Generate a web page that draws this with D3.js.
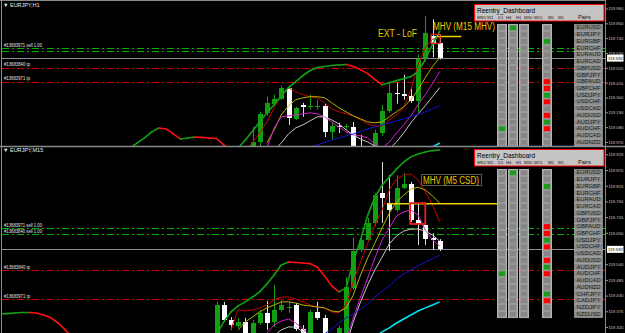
<!DOCTYPE html>
<html>
<head>
<meta charset="utf-8">
<script src="https://cdn.jsdelivr.net/npm/d3@7/dist/d3.min.js"></script>
<style>
  body { margin: 0; background: #000; }
  svg { display: block; font-family: Arial, "Liberation Sans", sans-serif; }
</style>
</head>
<body>
<div id="chart"></div>
<script>

// ---------- H1 panel data (candle index 0..26) ----------
var h1Open  = [118.895, 118.970, 119.186, 119.254, 119.291, 119.373, 119.142, 119.246, 119.235, 119.231, 119.239, 119.045, 119.089, 119.086, 119.082, 118.910, 118.836, 118.910, 119.037, 119.201, 119.336, 119.328, 119.313, 119.276, 119.589, 119.754, 119.701];
var h1High  = [119.082, 119.194, 119.306, 119.321, 119.388, 119.388, 119.231, 119.261, 119.321, 119.283, 119.254, 119.119, 119.112, 119.104, 119.119, 119.022, 118.925, 119.060, 119.246, 119.410, 119.410, 119.470, 119.373, 119.619, 119.903, 119.880, 119.768];
var h1Low   = [118.873, 118.940, 119.164, 119.239, 119.283, 119.097, 119.134, 119.157, 119.209, 119.209, 119.007, 118.985, 119.037, 119.060, 118.873, 118.798, 118.798, 118.895, 119.015, 119.186, 119.254, 119.283, 119.261, 119.194, 119.567, 119.597, 119.582];
var h1Close = [118.970, 119.179, 119.261, 119.291, 119.373, 119.149, 119.224, 119.231, 119.239, 119.239, 119.045, 119.089, 119.082, 119.089, 118.910, 118.836, 118.910, 119.037, 119.201, 119.336, 119.328, 119.313, 119.276, 119.589, 119.776, 119.694, 119.592];

// indicator lines, each with the candle index where it starts
var h1BandStart = -17;
var h1Band = [118.925, 118.963, 119.000, 119.045, 119.074, 119.067, 119.030, 118.992, 119.000, 119.007, 119.004, 119.000, 118.996, 118.948, 118.910, 118.925, 118.985, 119.052, 119.119, 119.186, 119.246, 119.313, 119.373, 119.418, 119.463, 119.500, 119.522, 119.530, 119.537, 119.541, 119.545, 119.530, 119.507, 119.477, 119.433, 119.395, 119.410, 119.425, 119.440, 119.455, 119.492, 119.582, 119.694, 119.791];
var h1RedStart = -1;
var h1Red = [118.910, 118.963, 119.037, 119.119, 119.224, 119.321, 119.373, 119.343, 119.321, 119.306, 119.298, 119.261, 119.216, 119.194, 119.179, 119.164, 119.134, 119.104, 119.089, 119.089, 119.134, 119.171, 119.224, 119.358, 119.545, 119.671, 119.731, 119.746];
var h1YellowStart = 2;
var h1Yellow = [118.963, 119.060, 119.171, 119.239, 119.283, 119.298, 119.306, 119.306, 119.298, 119.261, 119.224, 119.194, 119.164, 119.142, 119.119, 119.112, 119.119, 119.157, 119.194, 119.231, 119.283, 119.358, 119.448, 119.530, 119.597];
var h1MagentaStart = 2;
var h1Magenta = [118.925, 119.074, 119.157, 119.164, 119.171, 119.179, 119.186, 119.179, 119.157, 119.119, 119.082, 119.045, 119.022, 119.015, 119.000, 118.955, 118.925, 118.970, 119.037, 119.097, 119.164, 119.246, 119.321, 119.403, 119.492];
var h1GrayStart = 3;
var h1Gray = [118.910, 118.963, 119.030, 119.074, 119.097, 119.127, 119.157, 119.157, 119.134, 119.104, 119.060, 119.022, 118.992, 118.970, 118.940, 118.910, 118.918, 118.970, 119.037, 119.112, 119.179, 119.239, 119.306, 119.373];
var h1BlueStart = 8;
var h1Blue = [118.933, 118.948, 118.966, 118.985, 119.000, 119.015, 119.030, 119.049, 119.067, 119.082, 119.097, 119.112, 119.127, 119.142, 119.157, 119.175, 119.194, 119.216, 119.239];
var h1CyanStart = 24;
var h1Cyan = [118.903, 118.933, 118.963];

var h1Ticks = [118.970, 119.080, 119.190, 119.300, 119.410, 119.520, 119.630, 119.740, 119.850, 119.960];

// ---------- M15 panel data (candle index -5..26) ----------
var m15Start = -5;
var m15Open  = [119.282, 119.397, 119.345, 119.324, 119.338, 119.299, 119.334, 119.369, 119.338, 119.380, 119.387, 119.397, 119.313, 119.299, 119.373, 119.352, 119.268, 119.299, 119.299, 119.457, 119.590, 119.625, 119.684, 119.789, 119.754, 119.730, 119.807, 119.821, 119.695, 119.677, 119.632, 119.621];
var m15High  = [119.408, 119.408, 119.355, 119.352, 119.352, 119.345, 119.380, 119.411, 119.467, 119.415, 119.408, 119.404, 119.327, 119.380, 119.408, 119.362, 119.296, 119.324, 119.495, 119.632, 119.632, 119.702, 119.789, 119.898, 119.852, 119.852, 119.859, 119.828, 119.754, 119.677, 119.649, 119.628];
var m15Low   = [119.268, 119.338, 119.310, 119.317, 119.282, 119.292, 119.327, 119.310, 119.320, 119.373, 119.369, 119.306, 119.292, 119.292, 119.345, 119.289, 119.257, 119.292, 119.292, 119.450, 119.583, 119.618, 119.674, 119.684, 119.586, 119.723, 119.803, 119.688, 119.607, 119.607, 119.590, 119.586];
var m15Close = [119.397, 119.345, 119.327, 119.338, 119.296, 119.334, 119.369, 119.334, 119.380, 119.397, 119.390, 119.313, 119.299, 119.373, 119.352, 119.299, 119.285, 119.317, 119.460, 119.586, 119.625, 119.684, 119.782, 119.772, 119.730, 119.807, 119.821, 119.695, 119.681, 119.628, 119.625, 119.592];

var m15BandLeftStart = -35;
var m15BandLeft = [119.366, 119.367, 119.369, 119.371, 119.371, 119.369, 119.362, 119.352, 119.334, 119.310, 119.282];
var m15BandStart = -6;
var m15Band = [119.275, 119.292, 119.338, 119.373, 119.394, 119.408, 119.425, 119.443, 119.471, 119.502, 119.537, 119.548, 119.546, 119.544, 119.542, 119.530, 119.499, 119.464, 119.443, 119.457, 119.548, 119.625, 119.712, 119.775, 119.817, 119.845, 119.873, 119.898, 119.916, 119.926, 119.933, 119.938, 119.940];
var m15RedStart = -3;
var m15Red = [119.310, 119.380, 119.376, 119.380, 119.387, 119.397, 119.415, 119.425, 119.425, 119.418, 119.408, 119.397, 119.390, 119.387, 119.373, 119.369, 119.397, 119.478, 119.548, 119.614, 119.677, 119.730, 119.800, 119.838, 119.852, 119.856, 119.835, 119.793, 119.747, 119.688];
var m15YellowStart = -2;
var m15Yellow = [119.310, 119.338, 119.355, 119.373, 119.387, 119.397, 119.408, 119.408, 119.404, 119.397, 119.394, 119.390, 119.387, 119.376, 119.373, 119.387, 119.432, 119.502, 119.562, 119.614, 119.667, 119.719, 119.758, 119.782, 119.803, 119.810, 119.800, 119.779, 119.754];
var m15MagentaStart = 2;
var m15Magenta = [119.299, 119.327, 119.341, 119.348, 119.334, 119.313, 119.292, 119.275, 119.262, 119.255, 119.257, 119.275, 119.352, 119.425, 119.492, 119.562, 119.625, 119.667, 119.709, 119.723, 119.730, 119.712, 119.660, 119.625, 119.604];
var m15GrayStart = 3;
var m15Gray = [119.289, 119.310, 119.320, 119.320, 119.303, 119.285, 119.268, 119.255, 119.248, 119.245, 119.257, 119.338, 119.408, 119.467, 119.520, 119.565, 119.611, 119.639, 119.656, 119.663, 119.663, 119.656, 119.642, 119.621];
var m15BlueStart = 10;
var m15Blue = [119.296, 119.313, 119.334, 119.352, 119.366, 119.383, 119.401, 119.425, 119.446, 119.464, 119.488, 119.506, 119.520, 119.534, 119.548, 119.558, 119.572];
var m15CyanStart = 17;
var m15Cyan = [119.285, 119.303, 119.317, 119.334, 119.348, 119.362, 119.376, 119.387, 119.397, 119.408];

var m15Ticks = [119.320, 119.375, 119.430, 119.485, 119.540, 119.650, 119.705, 119.760, 119.815, 119.870, 119.925];

// ---------- shared values ----------
var currentPrice = 119.592;
var orderPrices = [119.666, 119.645, 119.519, 119.417];
var orderKinds  = ["sell", "sell", "tp", "tp"];
var orderLabels = ["#13683971 sell 1.00", "#13683840 sell 1.00", "#13683840 tp", "#13683971 tp"];

var mhvLevel = 119.752;
var h1MhvSpan  = [25.6, 29.0];
var m15MhvSpan = [18.8, 34.0];
var h1MhvBox  = [24.8, 26.05, 119.701, 119.768];
var m15MhvBox = [21.9, 24.0, 119.681, 119.754];

// dashboard
var pairs = ["EURUSD", "EURJPY", "EURGBP", "EURCHF", "EURAUD", "EURCAD", "GBPUSD", "GBPJPY", "GBPAUD", "GBPCHF", "USDJPY",
             "USDCHF", "USDCAD", "AUDUSD", "AUDJPY", "AUDCHF", "AUDCAD", "AUDNZD", "CHFJPY", "CADJPY", "NZDJPY", "NZDUSD"];
var timeframes = ["MN1", "W1", "D1", "H4", "H1", "M30", "M15", "M5", "M1"];
var sigD1  = [0, 0, 0, 0, 0, 0, 0, 0, 0, 0, 0, 0, 0, 0, 0, 1, 0, 0, 0, 0, 0, 0];
var sigH4  = [1, 0, 0, 0, 0, 0, 0, 0, 0, 0, 0, 0, 0, 0, 0, 0, 0, 0, 0, 0, 0, 0];
var sigH1  = [0, 0, 0, 0, 0, 0, 0, 0, 0, 0, 0, 0, 0, 0, 0, 0, 0, 0, 0, 0, 0, 0];
var sigM15 = [0, 0, 1, 0, 0, 0, 0, 0, -1, -1, 1, -1, 0, -1, 1, -1, 0, 0, 1, -1, 0, 0];


// ---------- setup ----------
var W = 625, H = 333, axisX = 605;
var fmt = d3.format(".3f");

var svg = d3.select("#chart").append("svg")
    .attr("width", W)
    .attr("height", H);

svg.append("rect").attr("width", W).attr("height", H).attr("fill", "#000");

// shared time axis (candle index -> pixel)
var x = d3.scaleLinear().domain([0, 26]).range([252.5, 439.7]);

var defs = svg.append("defs");

function series(start, vals) {
  return vals.map(function(v, i) { return {k: start + i, v: v}; });
}

function candles(start, o, h, l, c) {
  return o.map(function(v, i) { return {k: start + i, o: v, h: h[i], l: l[i], c: c[i]}; });
}

var panels = [
  { id: "h1", top: 0, y0: 1.5, y1: 146, title: "EURJPY,H1",
    y: d3.scaleLinear().domain([118.970, 119.960]).range([142, 8.5]),
    ticks: h1Ticks,
    bars: candles(0, h1Open, h1High, h1Low, h1Close),
    band: [series(h1BandStart, h1Band)],
    lines: [
      {d: series(h1RedStart, h1Red), c: "#c80000", w: 1},
      {d: series(h1YellowStart, h1Yellow), c: "#b4b400", w: 1},
      {d: series(h1MagentaStart, h1Magenta), c: "#d020d0", w: 1},
      {d: series(h1GrayStart, h1Gray), c: "#c8c8c8", w: 1},
      {d: series(h1BlueStart, h1Blue), c: "#1414d2", w: 1},
      {d: series(h1CyanStart, h1Cyan), c: "#00e4f0", w: 1.6}
    ],
    mhvSpan: h1MhvSpan, mhvBox: h1MhvBox
  },
  { id: "m15", top: 145, y0: 147.5, y1: 333, title: "EURJPY,M15",
    y: d3.scaleLinear().domain([119.320, 119.925]).range([327, 154.3]),
    ticks: m15Ticks,
    bars: candles(m15Start, m15Open, m15High, m15Low, m15Close),
    band: [series(m15BandLeftStart, m15BandLeft), series(m15BandStart, m15Band)],
    lines: [
      {d: series(m15RedStart, m15Red), c: "#c80000", w: 1},
      {d: series(m15YellowStart, m15Yellow), c: "#b4b400", w: 1},
      {d: series(m15MagentaStart, m15Magenta), c: "#d020d0", w: 1},
      {d: series(m15GrayStart, m15Gray), c: "#c8c8c8", w: 1},
      {d: series(m15BlueStart, m15Blue), c: "#1414d2", w: 1},
      {d: series(m15CyanStart, m15Cyan), c: "#00e4f0", w: 1.6}
    ],
    mhvSpan: m15MhvSpan, mhvBox: m15MhvBox
  }
];

panels.forEach(function(p) { drawPanel(p); });

// frame lines
svg.append("line").attr("x1", 0).attr("x2", axisX).attr("y1", 0.5).attr("y2", 0.5).attr("stroke", "#8a8a8a");
svg.append("line").attr("x1", 0).attr("x2", W).attr("y1", 146.5).attr("y2", 146.5).attr("stroke", "#8a8a8a").attr("stroke-width", 1.5);
svg.append("line").attr("x1", 1.5).attr("x2", 1.5).attr("y1", 0).attr("y2", H).attr("stroke", "#8a8a8a");
svg.append("line").attr("x1", axisX + 0.5).attr("x2", axisX + 0.5).attr("y1", 0).attr("y2", H).attr("stroke", "#8a8a8a");


function drawPanel(p) {
  var y = p.y;

  defs.append("clipPath").attr("id", "clip-" + p.id)
    .append("rect").attr("x", 2).attr("y", p.y0).attr("width", axisX - 2).attr("height", p.y1 - p.y0);

  var g = svg.append("g").attr("clip-path", "url(#clip-" + p.id + ")");

  // order lines (dash-dot)
  g.selectAll(".order")
    .data(orderPrices)
    .enter()
    .append("line")
      .attr("x1", 2).attr("x2", axisX)
      .attr("y1", function(d) { return Math.round(y(d)) + 0.5; })
      .attr("y2", function(d) { return Math.round(y(d)) + 0.5; })
      .attr("stroke", function(d, i) { return orderKinds[i] === "sell" ? "#00b400" : "#d00000"; })
      .attr("stroke-dasharray", "7,3,2,3");

  // current price line
  g.append("line")
    .attr("x1", 2).attr("x2", axisX)
    .attr("y1", Math.round(y(currentPrice)) + 0.5)
    .attr("y2", Math.round(y(currentPrice)) + 0.5)
    .attr("stroke", "#8c8c96");

  // candles
  var bw = 5;
  g.selectAll(".wick")
    .data(p.bars)
    .enter()
    .append("line")
      .attr("x1", function(d) { return Math.round(x(d.k)) + 0.5; })
      .attr("x2", function(d) { return Math.round(x(d.k)) + 0.5; })
      .attr("y1", function(d) { return y(d.h); })
      .attr("y2", function(d) { return y(d.l); })
      .attr("stroke", function(d) { return d.c >= d.o ? "#12a012" : "#dcdcdc"; });

  g.selectAll(".body")
    .data(p.bars)
    .enter()
    .append("rect")
      .attr("x", function(d) { return Math.round(x(d.k)) - 2; })
      .attr("width", bw)
      .attr("y", function(d) { return Math.round(y(Math.max(d.o, d.c))); })
      .attr("height", function(d) { return Math.max(1, Math.round(Math.abs(y(d.o) - y(d.c)))); })
      .attr("fill", function(d) { return d.c >= d.o ? "#12a012" : "#ffffff"; })
      .attr("shape-rendering", "crispEdges");

  // moving averages
  var line = d3.line()
    .defined(function(d) { return d.v != null; })
    .x(function(d) { return x(d.k); })
    .y(function(d) { return y(d.v); });

  p.lines.forEach(function(l) {
    g.append("path")
      .datum(l.d)
      .attr("d", line)
      .attr("fill", "none")
      .attr("stroke", l.c)
      .attr("stroke-width", l.w);
  });

  // trend coloured band: green while rising, red while falling
  p.band.forEach(function(b) {
    var segs = d3.pairs(b);
    g.selectAll(null)
      .data(segs)
      .enter()
      .append("line")
        .attr("x1", function(d) { return x(d[0].k); })
        .attr("y1", function(d) { return y(d[0].v); })
        .attr("x2", function(d) { return x(d[1].k); })
        .attr("y2", function(d) { return y(d[1].v); })
        .attr("stroke", function(d) { return d[1].v < d[0].v ? "#ff1010" : "#14a014"; })
        .attr("stroke-width", 1.6)
        .attr("stroke-linecap", "round");
  });

  // MHV level and box
  g.append("line")
    .attr("x1", x(p.mhvSpan[0])).attr("x2", x(p.mhvSpan[1]))
    .attr("y1", y(mhvLevel)).attr("y2", y(mhvLevel))
    .attr("stroke", "#f0d000").attr("stroke-width", 1.6);

  g.append("rect")
    .attr("x", x(p.mhvBox[0])).attr("width", x(p.mhvBox[1]) - x(p.mhvBox[0]))
    .attr("y", y(p.mhvBox[3])).attr("height", y(p.mhvBox[2]) - y(p.mhvBox[3]))
    .attr("fill", "none").attr("stroke", "#e82020").attr("stroke-width", p.id === "h1" ? 1.2 : 1.8);

  // order labels (a label sitting too close to the previous one is hidden, as in the terminal)
  var lastY = -99;
  orderPrices.forEach(function(d, i) {
    var ly = y(d) - 1.5;
    if (Math.abs(ly - lastY) < 5) return;
    lastY = ly;
    g.append("text")
      .attr("x", 4)
      .attr("y", ly)
      .attr("font-size", "5px")
      .attr("fill", "#e0e0e0")
      .attr("textLength", orderKinds[i] === "sell" ? 38 : 26)
      .attr("lengthAdjust", "spacingAndGlyphs")
      .text(orderLabels[i]);
  });

  // title
  g.append("text")
    .attr("x", 3).attr("y", p.top + 7)
    .attr("font-size", "5.5px").attr("fill", "#e8e8e8")
    .text("\u25BC " + p.title);

  // annotations
  if (p.id === "h1") {
    g.append("text").attr("x", 378).attr("y", 37)
      .attr("font-size", "10px").attr("fill", "#f0c800")
      .attr("textLength", 39).attr("lengthAdjust", "spacingAndGlyphs")
      .text("EXT - LoF");
    g.append("text").attr("x", 433).attr("y", 30)
      .attr("font-size", "10px").attr("fill", "#f0c800")
      .attr("textLength", 62).attr("lengthAdjust", "spacingAndGlyphs")
      .text("MHV (M15 MHV)");
  } else {
    g.append("rect").attr("x", 421.5).attr("y", 174.5).attr("width", 60).attr("height", 11)
      .attr("fill", "none").attr("stroke", "#5a5a5a");
    g.append("text").attr("x", 423).attr("y", 184)
      .attr("font-size", "10px").attr("fill", "#f0c800")
      .attr("textLength", 56).attr("lengthAdjust", "spacingAndGlyphs")
      .text("MHV (M5 CSD)");
  }

  drawDashboard(g, p.top, p.y1);

  // price axis
  var axis = d3.axisRight(y)
    .tickValues(p.ticks)
    .tickSize(2.5)
    .tickFormat(fmt);

  var ag = svg.append("g")
    .attr("transform", "translate(" + (axisX + 0.5) + ",0)")
    .call(axis);
  ag.select(".domain").remove();
  ag.selectAll(".tick line").attr("stroke", "#9a9a9a");
  ag.selectAll(".tick text")
    .attr("x", 3)
    .attr("fill", "#c8c8c8")
    .attr("font-size", "4.2px")
    .attr("font-family", "Arial, sans-serif");

  // current price box
  var cy = y(currentPrice);
  svg.append("rect")
    .attr("x", axisX + 2).attr("y", cy - 3.5).attr("width", 16.5).attr("height", 7)
    .attr("fill", "#ffffff");
  svg.append("text")
    .attr("x", axisX + 3).attr("y", cy + 1.6)
    .attr("font-size", "4.2px").attr("fill", "#000")
    .text(fmt(currentPrice));
}


function drawDashboard(g, top, bottom) {
  var rowTop = top + 24, rowH = 6.73;
  var dg = g.append("g");

  // header box
  dg.append("rect")
    .attr("x", 474.5).attr("y", top + 4.5).attr("width", 129.5).attr("height", 16.5)
    .attr("fill", "#c4c4c4").attr("stroke", "#ff0000");
  dg.append("text")
    .attr("x", 477).attr("y", top + 12.5)
    .attr("font-size", "7.5px").attr("fill", "#000")
    .attr("textLength", 58).attr("lengthAdjust", "spacingAndGlyphs")
    .text("Reentry_Dashboard");

  var tfX = [477, 487, 498, 506, 516, 524, 534, 548, 558];
  dg.selectAll(".tf")
    .data(timeframes)
    .enter()
    .append("text")
      .attr("x", function(d, i) { return tfX[i]; })
      .attr("y", top + 19.3)
      .attr("font-size", "4.3px")
      .attr("fill", "#202020")
      .text(function(d) { return d; });
  dg.append("text")
    .attr("x", 578).attr("y", top + 19.3)
    .attr("font-size", "5.6px").attr("fill", "#101010")
    .text("Pairs");

  // rows that the panel has room for (the rest is cut off by the panel edge)
  var nRows = Math.min(pairs.length, Math.ceil((bottom - rowTop) / rowH));
  var shownPairs = pairs.slice(0, nRows);

  // signal columns
  var cols = [{x: 497, s: sigD1}, {x: 508, s: sigH4}, {x: 519, s: sigH1}, {x: 542, s: sigM15}];
  cols.forEach(function(col) {
    dg.append("rect")
      .attr("x", col.x + 0.5).attr("y", rowTop + 0.5)
      .attr("width", 9).attr("height", pairs.length * rowH)
      .attr("fill", "#868686").attr("stroke", "#b4b4b4");
    dg.selectAll(null)
      .data(col.s.slice(0, nRows))
      .enter()
      .append("rect")
        .attr("x", col.x + 1.5)
        .attr("y", function(d, i) { return rowTop + 1 + i * rowH; })
        .attr("width", 7)
        .attr("height", rowH - 1)
        .attr("fill", function(d) { return d > 0 ? "#1e9a1e" : (d < 0 ? "#ff0000" : "#868686"); })
        .attr("stroke", "#a8a8a8")
        .attr("stroke-width", 0.6);
  });

  // pairs column
  dg.selectAll(".pair")
    .data(shownPairs)
    .enter()
    .append("rect")
      .attr("x", 574.5)
      .attr("y", function(d, i) { return rowTop + 0.5 + i * rowH; })
      .attr("width", 28)
      .attr("height", rowH)
      .attr("fill", "#8c8c8c")
      .attr("stroke", "#b0b0b0")
      .attr("stroke-width", 0.6);
  dg.selectAll(".pairtext")
    .data(shownPairs)
    .enter()
    .append("text")
      .attr("x", 588.5)
      .attr("y", function(d, i) { return rowTop + 5.4 + i * rowH; })
      .attr("text-anchor", "middle")
      .attr("font-size", "5.4px")
      .attr("fill", "#1c1c1c")
      .attr("textLength", 24)
      .attr("lengthAdjust", "spacingAndGlyphs")
      .text(function(d) { return d; });
}

</script>
</body>
</html>
